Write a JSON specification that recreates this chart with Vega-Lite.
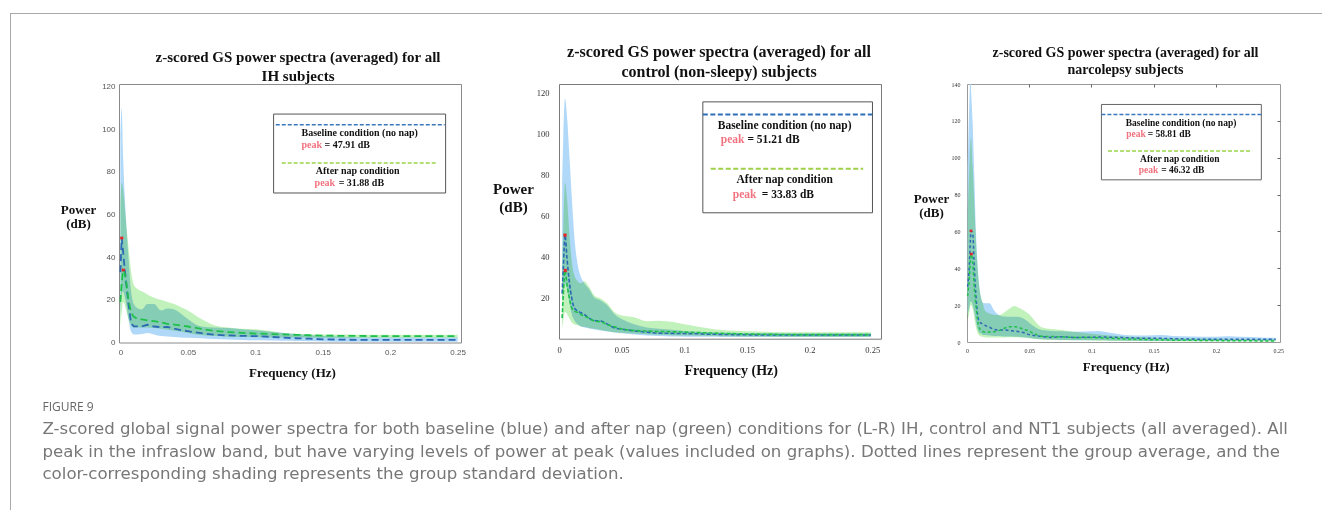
{
  "$schema": "https://vega.github.io/schema/vega-lite/v6.json",
  "padding": {"left": 10, "top": 12, "right": 0, "bottom": 0},
  "background": "white",
  "config": {
    "view": {"stroke": null},
    "title": {"font": "Liberation Serif", "fontWeight": "bold", "color": "#111"},
    "axis": {"grid": false, "labelFlush": false, "labelOverlap": false, "labelBound": false}
  },
  "datasets": {
    "p1": [
      {"f": 0, "bm": 33, "bl": 12, "bh": 95, "gm": 19, "gl": 8, "gh": 65},
      {"f": 0.001, "bm": 49, "bl": 22, "bh": 110, "gm": 28, "gl": 14, "gh": 75},
      {"f": 0.002, "bm": 43, "bl": 24, "bh": 88, "gm": 34, "gl": 19, "gh": 72},
      {"f": 0.003, "bm": 36, "bl": 22, "bh": 72, "gm": 33, "gl": 18, "gh": 66},
      {"f": 0.004, "bm": 30, "bl": 19, "bh": 60, "gm": 30, "gl": 16, "gh": 58},
      {"f": 0.006, "bm": 18, "bl": 11, "bh": 40, "gm": 20, "gl": 11, "gh": 45},
      {"f": 0.008, "bm": 9, "bl": 5, "bh": 24, "gm": 14, "gl": 8, "gh": 33},
      {"f": 0.01, "bm": 7.6, "bl": 3.8, "bh": 18, "gm": 12, "gl": 7, "gh": 27},
      {"f": 0.013, "bm": 7.6, "bl": 3.8, "bh": 16, "gm": 11, "gl": 7, "gh": 25},
      {"f": 0.016, "bm": 7.6, "bl": 4, "bh": 15.5, "gm": 10.8, "gl": 7, "gh": 24},
      {"f": 0.02, "bm": 8.3, "bl": 4.5, "bh": 18, "gm": 10.4, "gl": 7, "gh": 22.5},
      {"f": 0.025, "bm": 7.5, "bl": 3.8, "bh": 18, "gm": 10, "gl": 6.8, "gh": 21},
      {"f": 0.03, "bm": 7.2, "bl": 3, "bh": 15, "gm": 9.5, "gl": 6.5, "gh": 20},
      {"f": 0.035, "bm": 7.3, "bl": 2.8, "bh": 16, "gm": 8.7, "gl": 6, "gh": 19},
      {"f": 0.04, "bm": 6.5, "bl": 2.6, "bh": 15.5, "gm": 8.4, "gl": 5.5, "gh": 18},
      {"f": 0.045, "bm": 5.8, "bl": 2.4, "bh": 13.5, "gm": 8, "gl": 5, "gh": 16.5},
      {"f": 0.05, "bm": 5.3, "bl": 2.2, "bh": 11, "gm": 7.5, "gl": 4.5, "gh": 15},
      {"f": 0.06, "bm": 4.4, "bl": 2, "bh": 7.5, "gm": 6.4, "gl": 3.5, "gh": 11},
      {"f": 0.07, "bm": 3.6, "bl": 1.6, "bh": 7, "gm": 5.4, "gl": 3, "gh": 8},
      {"f": 0.08, "bm": 3.3, "bl": 1.4, "bh": 6.8, "gm": 4.9, "gl": 2.7, "gh": 7},
      {"f": 0.09, "bm": 3.1, "bl": 1.2, "bh": 6.2, "gm": 4.5, "gl": 2.6, "gh": 6.5},
      {"f": 0.1, "bm": 3, "bl": 1, "bh": 5.8, "gm": 4.2, "gl": 2.5, "gh": 6.2},
      {"f": 0.11, "bm": 2.7, "bl": 0.9, "bh": 5.2, "gm": 4, "gl": 2.4, "gh": 5.5},
      {"f": 0.12, "bm": 2.3, "bl": 0.8, "bh": 4.6, "gm": 3.8, "gl": 2.3, "gh": 4.5},
      {"f": 0.13, "bm": 2, "bl": 0.7, "bh": 4, "gm": 3.6, "gl": 2.3, "gh": 4.1},
      {"f": 0.14, "bm": 1.8, "bl": 0.6, "bh": 3.5, "gm": 3.4, "gl": 2.2, "gh": 3.9},
      {"f": 0.15, "bm": 1.5, "bl": 0.5, "bh": 3, "gm": 3.2, "gl": 2.2, "gh": 3.8},
      {"f": 0.17, "bm": 1.3, "bl": 0.4, "bh": 2.6, "gm": 3.1, "gl": 2.2, "gh": 3.7},
      {"f": 0.19, "bm": 1.2, "bl": 0.4, "bh": 2.4, "gm": 3, "gl": 2.2, "gh": 3.6},
      {"f": 0.21, "bm": 1.2, "bl": 0.4, "bh": 2.3, "gm": 3, "gl": 2.2, "gh": 3.6},
      {"f": 0.23, "bm": 1.2, "bl": 0.4, "bh": 2.3, "gm": 3, "gl": 2.2, "gh": 3.6},
      {"f": 0.25, "bm": 1.2, "bl": 0.4, "bh": 2.3, "gm": 3, "gl": 2.2, "gh": 3.6}
    ],
    "p2": [
      {"f": 0.0025, "bm": 22, "bl": 18, "bh": 75, "gm": 10, "gl": 5, "gh": 35},
      {"f": 0.0035, "bm": 35, "bl": 22, "bh": 100, "gm": 22, "gl": 9, "gh": 55},
      {"f": 0.0048, "bm": 50.4, "bl": 27, "bh": 117, "gm": 33.2, "gl": 13, "gh": 76},
      {"f": 0.0064, "bm": 39, "bl": 24, "bh": 108, "gm": 26.4, "gl": 12, "gh": 68},
      {"f": 0.0082, "bm": 28, "bl": 18, "bh": 90, "gm": 20, "gl": 10, "gh": 52},
      {"f": 0.0101, "bm": 20, "bl": 12, "bh": 70, "gm": 15, "gl": 8, "gh": 38},
      {"f": 0.0122, "bm": 15, "bl": 9, "bh": 50, "gm": 13.5, "gl": 7, "gh": 31},
      {"f": 0.0149, "bm": 13.5, "bl": 7, "bh": 36, "gm": 12.8, "gl": 6.5, "gh": 28},
      {"f": 0.0175, "bm": 12.6, "bl": 6, "bh": 30, "gm": 11.8, "gl": 6, "gh": 27},
      {"f": 0.0202, "bm": 11.8, "bl": 5.5, "bh": 27, "gm": 11, "gl": 5.8, "gh": 28},
      {"f": 0.0242, "bm": 9.9, "bl": 5, "bh": 24, "gm": 9.9, "gl": 5.2, "gh": 25},
      {"f": 0.0282, "bm": 8.9, "bl": 4.5, "bh": 20, "gm": 8.6, "gl": 4.8, "gh": 21},
      {"f": 0.0335, "bm": 8.6, "bl": 4, "bh": 18.5, "gm": 8.2, "gl": 4.2, "gh": 19.5},
      {"f": 0.0388, "bm": 7, "bl": 3.5, "bh": 16, "gm": 6.8, "gl": 3.6, "gh": 17},
      {"f": 0.0441, "bm": 5.3, "bl": 3, "bh": 12, "gm": 5.8, "gl": 3.2, "gh": 13},
      {"f": 0.052, "bm": 4.5, "bl": 2.5, "bh": 9, "gm": 4.5, "gl": 2.8, "gh": 11},
      {"f": 0.06, "bm": 3.8, "bl": 2, "bh": 7, "gm": 4, "gl": 2.5, "gh": 10.5},
      {"f": 0.07, "bm": 3.2, "bl": 1.6, "bh": 5.5, "gm": 3.7, "gl": 2.2, "gh": 8.5},
      {"f": 0.08, "bm": 2.7, "bl": 1.3, "bh": 4.8, "gm": 3.5, "gl": 1.9, "gh": 8.8},
      {"f": 0.09, "bm": 2.6, "bl": 1.1, "bh": 4.3, "gm": 3.4, "gl": 1.7, "gh": 8.2},
      {"f": 0.1, "bm": 2.5, "bl": 1, "bh": 3.8, "gm": 3.2, "gl": 1.5, "gh": 7},
      {"f": 0.11, "bm": 2.4, "bl": 0.9, "bh": 3.4, "gm": 3, "gl": 1.4, "gh": 6},
      {"f": 0.12, "bm": 2.2, "bl": 0.9, "bh": 3.1, "gm": 2.8, "gl": 1.3, "gh": 5},
      {"f": 0.13, "bm": 2.1, "bl": 0.8, "bh": 2.9, "gm": 2.6, "gl": 1.2, "gh": 4.2},
      {"f": 0.15, "bm": 1.9, "bl": 0.8, "bh": 2.7, "gm": 2.3, "gl": 1.1, "gh": 3.6},
      {"f": 0.17, "bm": 1.8, "bl": 0.8, "bh": 2.6, "gm": 2.1, "gl": 1, "gh": 3.3},
      {"f": 0.19, "bm": 1.8, "bl": 0.8, "bh": 2.5, "gm": 2, "gl": 1, "gh": 3.2},
      {"f": 0.21, "bm": 1.8, "bl": 0.8, "bh": 2.5, "gm": 2, "gl": 1, "gh": 3.2},
      {"f": 0.23, "bm": 1.8, "bl": 0.8, "bh": 2.5, "gm": 2, "gl": 1, "gh": 3.2},
      {"f": 0.249, "bm": 1.8, "bl": 0.8, "bh": 2.5, "gm": 2, "gl": 1, "gh": 3.2}
    ],
    "p3": [
      {"f": 0.0005, "bm": 30, "bl": 15, "bh": 95, "gm": 25, "gl": 12, "gh": 70},
      {"f": 0.0019, "bm": 42, "bl": 19, "bh": 130, "gm": 35, "gl": 16, "gh": 95},
      {"f": 0.0027, "bm": 55, "bl": 22, "bh": 146, "gm": 44, "gl": 20, "gh": 108},
      {"f": 0.0032, "bm": 60.3, "bl": 22, "bh": 138, "gm": 47.7, "gl": 20, "gh": 111},
      {"f": 0.0046, "bm": 59, "bl": 20, "bh": 118, "gm": 43, "gl": 18, "gh": 95},
      {"f": 0.0059, "bm": 40, "bl": 16, "bh": 90, "gm": 29, "gl": 13, "gh": 75},
      {"f": 0.0072, "bm": 25, "bl": 11, "bh": 60, "gm": 20, "gl": 8, "gh": 55},
      {"f": 0.0085, "bm": 15, "bl": 7, "bh": 42, "gm": 12, "gl": 5, "gh": 40},
      {"f": 0.0099, "bm": 11, "bl": 5, "bh": 30, "gm": 7.5, "gl": 3.5, "gh": 30},
      {"f": 0.0113, "bm": 10.3, "bl": 4.5, "bh": 24, "gm": 6.5, "gl": 3, "gh": 24},
      {"f": 0.0126, "bm": 9.8, "bl": 4, "bh": 21.5, "gm": 5.8, "gl": 2.8, "gh": 21},
      {"f": 0.0145, "bm": 9, "bl": 3.8, "bh": 21, "gm": 5.3, "gl": 2.6, "gh": 17},
      {"f": 0.018, "bm": 8, "bl": 3.5, "bh": 21, "gm": 5.4, "gl": 2.5, "gh": 15.5},
      {"f": 0.022, "bm": 6.8, "bl": 3.3, "bh": 17, "gm": 5.6, "gl": 2.5, "gh": 14.8},
      {"f": 0.026, "bm": 6.5, "bl": 3.2, "bh": 14.5, "gm": 6.3, "gl": 2.5, "gh": 14.6},
      {"f": 0.03, "bm": 6.5, "bl": 3, "bh": 13.8, "gm": 7.5, "gl": 2.5, "gh": 16},
      {"f": 0.034, "bm": 6.2, "bl": 3, "bh": 13.7, "gm": 8.3, "gl": 2.6, "gh": 18},
      {"f": 0.038, "bm": 6, "bl": 2.9, "bh": 13.7, "gm": 8.3, "gl": 2.6, "gh": 19.5},
      {"f": 0.042, "bm": 5.6, "bl": 2.8, "bh": 13.5, "gm": 7.8, "gl": 2.5, "gh": 18.5},
      {"f": 0.046, "bm": 5, "bl": 2.6, "bh": 12.5, "gm": 6.8, "gl": 2.3, "gh": 17},
      {"f": 0.05, "bm": 4, "bl": 2.3, "bh": 10.5, "gm": 5.8, "gl": 2, "gh": 15},
      {"f": 0.055, "bm": 3.4, "bl": 1.8, "bh": 8, "gm": 4.2, "gl": 1.6, "gh": 11},
      {"f": 0.06, "bm": 3, "bl": 1.5, "bh": 6.5, "gm": 3.1, "gl": 1.3, "gh": 8},
      {"f": 0.068, "bm": 2.5, "bl": 1.3, "bh": 6, "gm": 3, "gl": 1.1, "gh": 7},
      {"f": 0.076, "bm": 2.8, "bl": 1.1, "bh": 5.8, "gm": 2.8, "gl": 1, "gh": 6.5},
      {"f": 0.086, "bm": 2.5, "bl": 1, "bh": 5.6, "gm": 2.5, "gl": 0.9, "gh": 5.5},
      {"f": 0.1, "bm": 2.6, "bl": 0.9, "bh": 5.8, "gm": 2.4, "gl": 0.8, "gh": 4.5},
      {"f": 0.105, "bm": 2.7, "bl": 0.9, "bh": 6, "gm": 2.3, "gl": 0.7, "gh": 4.2},
      {"f": 0.115, "bm": 2.6, "bl": 0.8, "bh": 5, "gm": 2, "gl": 0.6, "gh": 3.5},
      {"f": 0.13, "bm": 2.3, "bl": 0.7, "bh": 3.6, "gm": 1.6, "gl": 0.5, "gh": 2.8},
      {"f": 0.145, "bm": 2, "bl": 0.6, "bh": 3.5, "gm": 1.3, "gl": 0.4, "gh": 2.4},
      {"f": 0.155, "bm": 2, "bl": 0.6, "bh": 3.8, "gm": 1.2, "gl": 0.4, "gh": 2.2},
      {"f": 0.165, "bm": 1.8, "bl": 0.5, "bh": 3.3, "gm": 1, "gl": 0.3, "gh": 2},
      {"f": 0.18, "bm": 1.6, "bl": 0.5, "bh": 3, "gm": 0.9, "gl": 0.3, "gh": 1.8},
      {"f": 0.2, "bm": 1.5, "bl": 0.5, "bh": 2.9, "gm": 0.8, "gl": 0.3, "gh": 1.7},
      {"f": 0.21, "bm": 1.5, "bl": 0.5, "bh": 3.1, "gm": 0.7, "gl": 0.3, "gh": 1.6},
      {"f": 0.22, "bm": 1.5, "bl": 0.5, "bh": 2.8, "gm": 0.7, "gl": 0.3, "gh": 1.6},
      {"f": 0.235, "bm": 1.5, "bl": 0.5, "bh": 2.5, "gm": 0.6, "gl": 0.3, "gh": 1.5},
      {"f": 0.248, "bm": 1.5, "bl": 0.5, "bh": 2.2, "gm": 0.6, "gl": 0.3, "gh": 1.5}
    ],
    "pk1": [{"f": 0.001, "v": 49}, {"f": 0.0022, "v": 34}],
    "pk2": [{"f": 0.0048, "v": 50.4}, {"f": 0.005, "v": 33.2}],
    "pk3": [{"f": 0.0032, "v": 60.3}, {"f": 0.0035, "v": 47.7}],
    "box1": [{"x": 0.1136, "x2": 0.2411, "y": 70.1, "y2": 107.1}],
    "box2": [{"x": 0.1148, "x2": 0.2502, "y": 61.3, "y2": 115.3}],
    "box3": [{"x": 0.108, "x2": 0.2365, "y": 88, "y2": 128.9}],
    "bd1": [{"x": 0.1152, "x2": 0.2404, "y": 102.1}],
    "gd1": [{"x": 0.1196, "x2": 0.2337, "y": 84.2}],
    "bd2": [{"x": 0.1148, "x2": 0.2502, "y": 109.1}],
    "gd2": [{"x": 0.1211, "x2": 0.2428, "y": 82.7}],
    "bd3": [{"x": 0.108, "x2": 0.2365, "y": 123.5}],
    "gd3": [{"x": 0.1133, "x2": 0.2291, "y": 103.6}],
    "hd1": [{"x": 0.1774, "y": 98.2, "t": "Baseline condition (no nap)"}, {"x": 0.1759, "y": 80.5, "t": "After nap condition"}],
    "hd2": [{"x": 0.1801, "y": 103.4, "t": "Baseline condition (no nap)"}, {"x": 0.1801, "y": 77.2, "t": "After nap condition"}],
    "hd3": [{"x": 0.172, "y": 119, "t": "Baseline condition (no nap)"}, {"x": 0.171, "y": 99.3, "t": "After nap condition"}],
    "pw1": [{"x": 0.1342, "y": 92.6, "t": "peak"}, {"x": 0.144, "y": 74.8, "t": "peak"}],
    "pw2": [{"x": 0.1291, "y": 96.5, "t": "peak"}, {"x": 0.1387, "y": 69.9, "t": "peak"}],
    "pw3": [{"x": 0.128, "y": 112.7, "t": "peak"}, {"x": 0.138, "y": 93.1, "t": "peak"}],
    "pv1": [{"x": 0.1514, "y": 92.6, "t": "= 47.91 dB"}, {"x": 0.1618, "y": 74.8, "t": "= 31.88 dB"}],
    "pv2": [{"x": 0.1504, "y": 96.5, "t": "= 51.21 dB"}, {"x": 0.1618, "y": 69.9, "t": "= 33.83 dB"}],
    "pv3": [{"x": 0.1452, "y": 112.7, "t": "= 58.81 dB"}, {"x": 0.156, "y": 93.1, "t": "= 46.32 dB"}]
  },
  "hconcat": [
    {
      "width": 1, "height": 498,
      "data": {"values": [{"v": 0.5}]},
      "mark": {"type": "rule", "color": "#a8a8a8", "strokeWidth": 1},
      "encoding": {"x": {"field": "v", "type": "quantitative", "scale": {"domain": [0, 1]}, "axis": null}}
    },
    {
      "vconcat": [
        {
          "width": 1312, "height": 1,
          "data": {"values": [{"v": 0.5}]},
          "mark": {"type": "rule", "color": "#a8a8a8", "strokeWidth": 1},
          "encoding": {"y": {"field": "v", "type": "quantitative", "scale": {"domain": [0, 1]}, "axis": null}}
        },
        {
          "hconcat": [
            {"width": 10, "height": 1, "data": {"values": [{}]}, "mark": {"type": "point", "opacity": 0}},
            {
              "width": 342, "height": 258.5,
              "view": {"stroke": "#8a8a8a", "strokeWidth": 1},
              "title": {"text": ["z-scored GS power spectra (averaged) for all", "IH subjects"], "fontSize": 15, "lineHeight": 19, "anchor": "middle", "frame": "group", "dx": 8, "offset": -1},
              "resolve": {"axis": {"x": "independent", "y": "independent"}},
              "layer": [
                {"data": {"name": "p1"}, "mark": {"type": "area", "color": "#b0d8f8", "interpolate": "monotone"},
                 "encoding": {
                   "x": {"field": "f", "type": "quantitative", "scale": {"domain": [-0.001, 0.2525], "nice": false, "zero": false},
                         "axis": {"values": [0, 0.05, 0.1, 0.15, 0.2, 0.25], "format": "~g", "title": "Frequency (Hz)", "titleFont": "Liberation Serif", "titleFontWeight": "bold", "titleFontSize": 13, "titleColor": "#111", "titleX": 173, "titleY": 30, "titleBaseline": "middle", "titleAlign": "center", "labelFont": "Liberation Sans", "labelFontSize": 8, "labelColor": "#555", "labelPadding": 6, "ticks": false, "tickSize": 0, "domain": false}},
                   "y": {"field": "bl", "type": "quantitative", "scale": {"domain": [0, 121.2], "nice": false},
                         "axis": {"values": [0, 20, 40, 60, 80, 100, 120], "title": ["Power", "(dB)"], "titleAngle": 0, "titleX": -41, "titleY": 125, "titleAlign": "center", "titleBaseline": "middle", "titleLineHeight": 14, "titleFont": "Liberation Serif", "titleFontWeight": "bold", "titleFontSize": 13, "titleColor": "#111", "labelFont": "Liberation Sans", "labelFontSize": 8, "labelColor": "#555", "labelPadding": 4, "ticks": false, "tickSize": 0, "domain": false}},
                   "y2": {"field": "bh"}
                 }},
                {"data": {"name": "p1"}, "mark": {"type": "area", "color": "#c2f2bb", "blend": "multiply", "interpolate": "monotone"},
                 "encoding": {"x": {"field": "f", "type": "quantitative", "axis": null}, "y": {"field": "gl", "type": "quantitative", "axis": null}, "y2": {"field": "gh"}}},
                {"data": {"name": "p1"}, "mark": {"type": "line", "color": "#2d69b3", "strokeWidth": 1.8, "strokeDash": [7, 4]},
                 "encoding": {"x": {"field": "f", "type": "quantitative", "axis": null}, "y": {"field": "bm", "type": "quantitative", "axis": null}}},
                {"data": {"name": "p1"}, "mark": {"type": "line", "color": "#1fbf4c", "strokeWidth": 1.8, "strokeDash": [7, 4]},
                 "encoding": {"x": {"field": "f", "type": "quantitative", "axis": null}, "y": {"field": "gm", "type": "quantitative", "axis": null}}},
                {"data": {"name": "pk1"}, "mark": {"type": "point", "shape": "cross", "angle": 45, "size": 14, "filled": true, "color": "#e3242b", "opacity": 1},
                 "encoding": {"x": {"field": "f", "type": "quantitative", "axis": null}, "y": {"field": "v", "type": "quantitative", "axis": null}}},
                {"data": {"name": "box1"}, "mark": {"type": "rect", "fill": "white", "stroke": "#555", "strokeWidth": 1},
                 "encoding": {"x": {"field": "x", "type": "quantitative", "axis": null}, "x2": {"field": "x2"}, "y": {"field": "y", "type": "quantitative", "axis": null}, "y2": {"field": "y2"}}},
                {"data": {"name": "bd1"}, "mark": {"type": "rule", "color": "#3a78c0", "strokeWidth": 1.5, "strokeDash": [4, 2]},
                 "encoding": {"x": {"field": "x", "type": "quantitative", "axis": null}, "x2": {"field": "x2"}, "y": {"field": "y", "type": "quantitative", "axis": null}}},
                {"data": {"name": "gd1"}, "mark": {"type": "rule", "color": "#9ad64a", "strokeWidth": 1.5, "strokeDash": [4, 2]},
                 "encoding": {"x": {"field": "x", "type": "quantitative", "axis": null}, "x2": {"field": "x2"}, "y": {"field": "y", "type": "quantitative", "axis": null}}},
                {"data": {"name": "hd1"}, "mark": {"type": "text", "font": "Liberation Serif", "fontWeight": "bold", "fontSize": 10, "color": "#111", "align": "center", "baseline": "middle"},
                 "encoding": {"x": {"field": "x", "type": "quantitative", "axis": null}, "y": {"field": "y", "type": "quantitative", "axis": null}, "text": {"field": "t"}}},
                {"data": {"name": "pw1"}, "mark": {"type": "text", "font": "Liberation Serif", "fontWeight": "bold", "fontSize": 10, "color": "#f2727f", "align": "left", "baseline": "middle"},
                 "encoding": {"x": {"field": "x", "type": "quantitative", "axis": null}, "y": {"field": "y", "type": "quantitative", "axis": null}, "text": {"field": "t"}}},
                {"data": {"name": "pv1"}, "mark": {"type": "text", "font": "Liberation Serif", "fontWeight": "bold", "fontSize": 10, "color": "#111", "align": "left", "baseline": "middle"},
                 "encoding": {"x": {"field": "x", "type": "quantitative", "axis": null}, "y": {"field": "y", "type": "quantitative", "axis": null}, "text": {"field": "t"}}}
              ]
            },
            {
              "hconcat": [
                {
                  "width": 322, "height": 254.7,
                  "view": {"stroke": "#7a7a7a", "strokeWidth": 1},
                  "title": {"text": ["z-scored GS power spectra (averaged) for all", "control (non-sleepy) subjects"], "fontSize": 16, "lineHeight": 19.5, "anchor": "middle", "frame": "group", "dx": -1, "offset": 4.5},
                  "resolve": {"axis": {"x": "independent", "y": "independent"}},
                  "layer": [
                    {"data": {"name": "p2"}, "mark": {"type": "area", "color": "#b0d8f8", "interpolate": "monotone"},
                     "encoding": {
                       "x": {"field": "f", "type": "quantitative", "scale": {"domain": [0, 0.257], "nice": false, "zero": false},
                             "axis": {"values": [0, 0.05, 0.1, 0.15, 0.2, 0.25], "format": "~g", "title": "Frequency (Hz)", "titleFont": "Liberation Serif", "titleFontWeight": "bold", "titleFontSize": 14, "titleColor": "#111", "titleX": 171.7, "titleY": 32, "titleBaseline": "middle", "titleAlign": "center", "labelFont": "Liberation Serif", "labelFontSize": 8.5, "labelColor": "#333", "labelPadding": 7, "ticks": false, "tickSize": 0, "domain": false}},
                       "y": {"field": "bl", "type": "quantitative", "scale": {"domain": [0, 124], "nice": false},
                             "axis": {"values": [20, 40, 60, 80, 100, 120], "title": ["Power", "(dB)"], "titleAngle": 0, "titleX": -46, "titleY": 104, "titleAlign": "center", "titleBaseline": "middle", "titleLineHeight": 18, "titleFont": "Liberation Serif", "titleFontWeight": "bold", "titleFontSize": 15, "titleColor": "#111", "labelFont": "Liberation Serif", "labelFontSize": 8.5, "labelColor": "#333", "labelPadding": 10, "ticks": false, "tickSize": 0, "domain": false}},
                       "y2": {"field": "bh"}
                     }},
                    {"data": {"name": "p2"}, "mark": {"type": "area", "color": "#c2f2bb", "blend": "multiply", "interpolate": "monotone"},
                     "encoding": {"x": {"field": "f", "type": "quantitative", "axis": null}, "y": {"field": "gl", "type": "quantitative", "axis": null}, "y2": {"field": "gh"}}},
                    {"data": {"name": "p2"}, "mark": {"type": "line", "color": "#2d69b3", "strokeWidth": 1.6, "strokeDash": [4, 2], "interpolate": "monotone"},
                     "encoding": {"x": {"field": "f", "type": "quantitative", "axis": null}, "y": {"field": "bm", "type": "quantitative", "axis": null}}},
                    {"data": {"name": "p2"}, "mark": {"type": "line", "color": "#1fbf4c", "strokeWidth": 1.6, "strokeDash": [4, 2], "interpolate": "monotone"},
                     "encoding": {"x": {"field": "f", "type": "quantitative", "axis": null}, "y": {"field": "gm", "type": "quantitative", "axis": null}}},
                    {"data": {"name": "pk2"}, "mark": {"type": "point", "shape": "cross", "angle": 45, "size": 16, "filled": true, "color": "#e3242b", "opacity": 1},
                     "encoding": {"x": {"field": "f", "type": "quantitative", "axis": null}, "y": {"field": "v", "type": "quantitative", "axis": null}}},
                    {"data": {"name": "box2"}, "mark": {"type": "rect", "fill": "white", "stroke": "#555", "strokeWidth": 1},
                     "encoding": {"x": {"field": "x", "type": "quantitative", "axis": null}, "x2": {"field": "x2"}, "y": {"field": "y", "type": "quantitative", "axis": null}, "y2": {"field": "y2"}}},
                    {"data": {"name": "bd2"}, "mark": {"type": "rule", "color": "#2e6fb8", "strokeWidth": 2, "strokeDash": [5, 2.5]},
                     "encoding": {"x": {"field": "x", "type": "quantitative", "axis": null}, "x2": {"field": "x2"}, "y": {"field": "y", "type": "quantitative", "axis": null}}},
                    {"data": {"name": "gd2"}, "mark": {"type": "rule", "color": "#9fd04a", "strokeWidth": 2, "strokeDash": [5, 2.5]},
                     "encoding": {"x": {"field": "x", "type": "quantitative", "axis": null}, "x2": {"field": "x2"}, "y": {"field": "y", "type": "quantitative", "axis": null}}},
                    {"data": {"name": "hd2"}, "mark": {"type": "text", "font": "Liberation Serif", "fontWeight": "bold", "fontSize": 11.5, "color": "#111", "align": "center", "baseline": "middle"},
                     "encoding": {"x": {"field": "x", "type": "quantitative", "axis": null}, "y": {"field": "y", "type": "quantitative", "axis": null}, "text": {"field": "t"}}},
                    {"data": {"name": "pw2"}, "mark": {"type": "text", "font": "Liberation Serif", "fontWeight": "bold", "fontSize": 11.5, "color": "#f2727f", "align": "left", "baseline": "middle"},
                     "encoding": {"x": {"field": "x", "type": "quantitative", "axis": null}, "y": {"field": "y", "type": "quantitative", "axis": null}, "text": {"field": "t"}}},
                    {"data": {"name": "pv2"}, "mark": {"type": "text", "font": "Liberation Serif", "fontWeight": "bold", "fontSize": 11.5, "color": "#111", "align": "left", "baseline": "middle"},
                     "encoding": {"x": {"field": "x", "type": "quantitative", "axis": null}, "y": {"field": "y", "type": "quantitative", "axis": null}, "text": {"field": "t"}}}
                  ]
                },
                {
                  "width": 313, "height": 258,
                  "view": {"stroke": "#9a9a9a", "strokeWidth": 1},
                  "title": {"text": ["z-scored GS power spectra (averaged) for all", "narcolepsy subjects"], "fontSize": 14, "lineHeight": 17.6, "anchor": "middle", "frame": "group", "dx": 2, "offset": 3.5},
                  "resolve": {"axis": {"x": "independent", "y": "independent"}},
                  "layer": [
                    {"data": {"name": "p3"}, "mark": {"type": "area", "color": "#b0d8f8", "interpolate": "monotone", "clip": true},
                     "encoding": {
                       "x": {"field": "f", "type": "quantitative", "scale": {"domain": [0, 0.2515], "nice": false, "zero": false},
                             "axis": {"values": [0, 0.05, 0.1, 0.15, 0.2, 0.25], "format": "~g", "title": "Frequency (Hz)", "titleFont": "Liberation Serif", "titleFontWeight": "bold", "titleFontSize": 13, "titleColor": "#111", "titleX": 158.7, "titleY": 24, "titleBaseline": "middle", "titleAlign": "center", "labelFont": "Liberation Serif", "labelFontSize": 6, "labelColor": "#333", "labelPadding": 5, "ticks": false, "tickSize": 0, "domain": false}},
                       "y": {"field": "bl", "type": "quantitative", "scale": {"domain": [0, 140], "nice": false},
                             "axis": {"values": [0, 20, 40, 60, 80, 100, 120, 140], "title": ["Power", "(dB)"], "titleAngle": 0, "titleX": -36, "titleY": 114.5, "titleAlign": "center", "titleBaseline": "middle", "titleLineHeight": 14.4, "titleFont": "Liberation Serif", "titleFontWeight": "bold", "titleFontSize": 13, "titleColor": "#111", "labelFont": "Liberation Serif", "labelFontSize": 6, "labelColor": "#333", "labelPadding": 7, "ticks": false, "tickSize": 0, "domain": false}},
                       "y2": {"field": "bh"}
                     }},
                    {"data": {"name": "p3"}, "mark": {"type": "area", "color": "#c2f2bb", "blend": "multiply", "interpolate": "monotone"},
                     "encoding": {"x": {"field": "f", "type": "quantitative", "axis": null}, "y": {"field": "gl", "type": "quantitative", "axis": null}, "y2": {"field": "gh"}}},
                    {"data": {"name": "p3"}, "mark": {"type": "line", "color": "#2d69b3", "strokeWidth": 1.5, "strokeDash": [3, 2.5], "interpolate": "monotone"},
                     "encoding": {"x": {"field": "f", "type": "quantitative", "axis": null}, "y": {"field": "bm", "type": "quantitative", "axis": null}}},
                    {"data": {"name": "p3"}, "mark": {"type": "line", "color": "#1fbf4c", "strokeWidth": 1.5, "strokeDash": [3, 2.5], "interpolate": "monotone"},
                     "encoding": {"x": {"field": "f", "type": "quantitative", "axis": null}, "y": {"field": "gm", "type": "quantitative", "axis": null}}},
                    {"data": {"name": "pk3"}, "mark": {"type": "point", "shape": "cross", "angle": 45, "size": 12, "filled": true, "color": "#e3242b", "opacity": 1},
                     "encoding": {"x": {"field": "f", "type": "quantitative", "axis": null}, "y": {"field": "v", "type": "quantitative", "axis": null}}},
                    {"data": {"name": "box3"}, "mark": {"type": "rect", "fill": "white", "stroke": "#666", "strokeWidth": 1},
                     "encoding": {
                       "x": {"field": "x", "type": "quantitative", "axis": {"orient": "top", "values": [0.05, 0.1, 0.15, 0.2], "labels": false, "title": null, "domain": false, "ticks": true, "tickSize": -3, "tickColor": "#666"}},
                       "x2": {"field": "x2"},
                       "y": {"field": "y", "type": "quantitative", "axis": {"orient": "right", "values": [20, 40, 60, 80, 100, 120], "labels": false, "title": null, "domain": false, "ticks": true, "tickSize": -3, "tickColor": "#666"}},
                       "y2": {"field": "y2"}}},
                    {"data": {"name": "bd3"}, "mark": {"type": "rule", "color": "#3a78c0", "strokeWidth": 1.5, "strokeDash": [4, 2]},
                     "encoding": {"x": {"field": "x", "type": "quantitative", "axis": null}, "x2": {"field": "x2"}, "y": {"field": "y", "type": "quantitative", "axis": null}}},
                    {"data": {"name": "gd3"}, "mark": {"type": "rule", "color": "#9ad64a", "strokeWidth": 1.5, "strokeDash": [4, 2]},
                     "encoding": {"x": {"field": "x", "type": "quantitative", "axis": null}, "x2": {"field": "x2"}, "y": {"field": "y", "type": "quantitative", "axis": null}}},
                    {"data": {"name": "hd3"}, "mark": {"type": "text", "font": "Liberation Serif", "fontWeight": "bold", "fontSize": 9.5, "color": "#111", "align": "center", "baseline": "middle"},
                     "encoding": {"x": {"field": "x", "type": "quantitative", "axis": null}, "y": {"field": "y", "type": "quantitative", "axis": null}, "text": {"field": "t"}}},
                    {"data": {"name": "pw3"}, "mark": {"type": "text", "font": "Liberation Serif", "fontWeight": "bold", "fontSize": 9.5, "color": "#f2727f", "align": "left", "baseline": "middle"},
                     "encoding": {"x": {"field": "x", "type": "quantitative", "axis": null}, "y": {"field": "y", "type": "quantitative", "axis": null}, "text": {"field": "t"}}},
                    {"data": {"name": "pv3"}, "mark": {"type": "text", "font": "Liberation Serif", "fontWeight": "bold", "fontSize": 9.5, "color": "#111", "align": "left", "baseline": "middle"},
                     "encoding": {"x": {"field": "x", "type": "quantitative", "axis": null}, "y": {"field": "y", "type": "quantitative", "axis": null}, "text": {"field": "t"}}}
                  ]
                }
              ],
              "spacing": 86, "bounds": "flush"
            }
          ],
          "spacing": 98, "bounds": "flush"
        }
      ],
      "spacing": 70, "bounds": "flush",
      "title": {
        "text": "FIGURE 9",
        "subtitle": [
          "Z-scored global signal power spectra for both baseline (blue) and after nap (green) conditions for (L-R) IH, control and NT1 subjects (all averaged). All",
          "peak in the infraslow band, but have varying levels of power at peak (values included on graphs). Dotted lines represent the group average, and the",
          "color-corresponding shading represents the group standard deviation."
        ],
        "orient": "bottom", "anchor": "start", "frame": "bounds", "offset": 22, "dx": 32,
        "font": "Open Sans", "fontSize": 12, "fontWeight": "normal", "color": "#666",
        "subtitleFont": "DejaVu Sans", "subtitleFontSize": 16.6, "subtitleFontWeight": "normal", "subtitleColor": "#777", "subtitleLineHeight": 22.5, "subtitlePadding": 7
      }
    }
  ],
  "spacing": 0, "bounds": "flush"
}
